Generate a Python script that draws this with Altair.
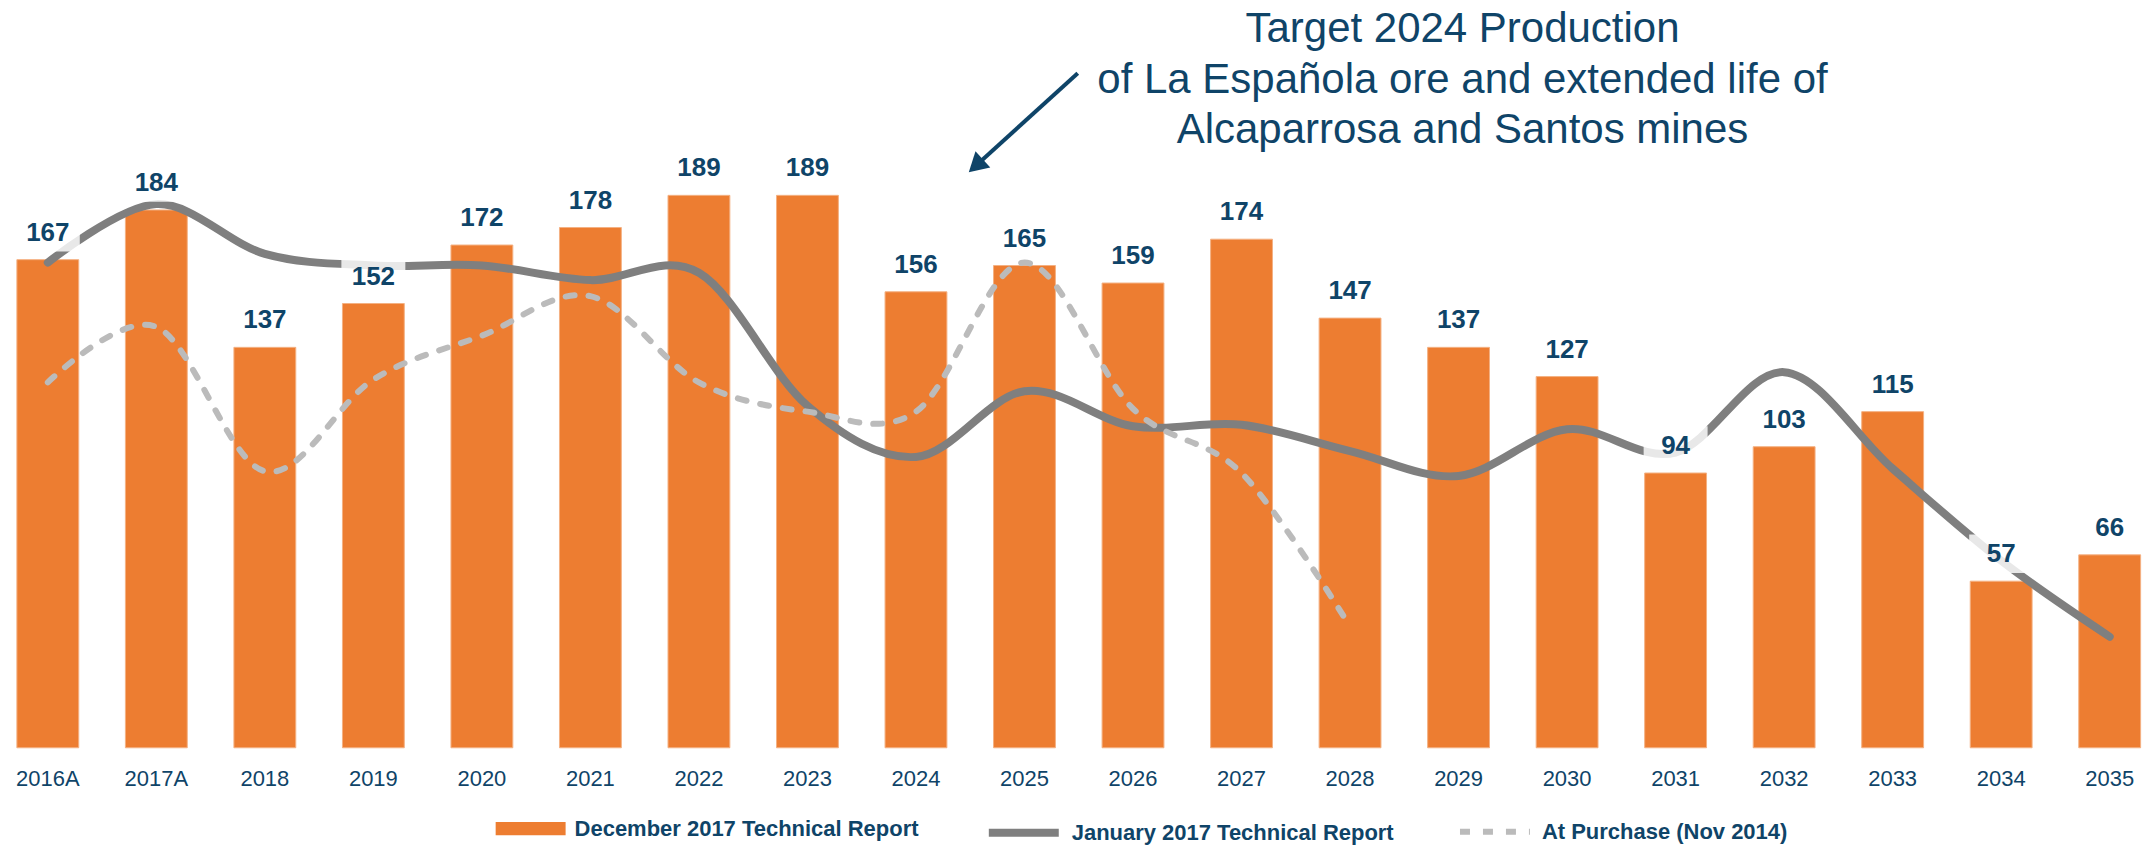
import altair as alt
import pandas as pd

# ---------------- data ----------------
years = ["2016A", "2017A", "2018", "2019", "2020", "2021", "2022", "2023", "2024", "2025",
         "2026", "2027", "2028", "2029", "2030", "2031", "2032", "2033", "2034", "2035"]
dec2017_values = [167, 184, 137, 152, 172, 178, 189, 189, 156, 165,
                  159, 174, 147, 137, 127, 94, 103, 115, 57, 66]
jan2017_values = [166, 186, 169, 165, 165, 160, 162.5, 117, 99.5, 122,
                  110, 110.5, 101.5, 93, 109, 101, 128.5, 95.5, 64, 38]
purchase_years = ["2016A", "2017A", "2018", "2019", "2020", "2021", "2022", "2023", "2024",
                  "2025", "2026", "2027", "2028"]
purchase_values = [125, 144, 94.6, 126, 141, 154.5, 125, 115, 115, 166, 116, 94, 41.5]

series_names = ["December 2017 Technical Report", "January 2017 Technical Report",
                "At Purchase (Nov 2014)"]
annotation_lines = ["Target 2024 Production",
                    "of La Española ore and extended life of",
                    "Alcaparrosa and Santos mines"]

# ---------------- styles ----------------
FONT = "Liberation Sans"
TEXT = "#0F4468"
ORANGE = "#ED7D31"
DARK = "#7F7F7F"
LIGHT = "#BBBBBB"

bars_df = pd.DataFrame({"year": years, "value": dec2017_values, "series": series_names[0]})
jan_df = pd.DataFrame({"year": years, "value": jan2017_values, "series": series_names[1]})
pur_df = pd.DataFrame({"year": purchase_years, "value": purchase_values, "series": series_names[2]})

LEG_Y = 786
common_leg = dict(title=None, orient="none", legendY=LEG_Y, direction="horizontal",
                  labelFont=FONT, labelFontSize=22, labelFontWeight="bold",
                  labelColor=TEXT, labelLimit=600, labelOffset=9, symbolSize=4900,
                  padding=0)

leg_dec = alt.Legend(legendX=486.5, symbolType="M-1,-0.19H1V0.19H-1Z",
                     symbolFillColor=ORANGE, symbolStrokeWidth=0, symbolOpacity=1, **common_leg)
leg_jan = alt.Legend(legendX=976, symbolType="stroke", symbolStrokeWidth=8,
                     symbolStrokeColor=DARK, symbolOpacity=1, **common_leg)
leg_pur = alt.Legend(legendX=1448.5, symbolType="stroke", symbolStrokeWidth=6,
                     symbolDash=[10, 13], symbolStrokeColor=LIGHT, symbolOpacity=1,
                     **common_leg)

x_enc = alt.X("year:N", sort=years,
              scale=alt.Scale(paddingInner=0.43, paddingOuter=0.068),
              axis=alt.Axis(title=None, labelAngle=0, domain=False, ticks=False, grid=False,
                            labelFont=FONT, labelFontSize=22, labelColor=TEXT, labelPadding=21))
y_scale = alt.Scale(domain=[0, 253], nice=False, zero=True)

bars = alt.Chart(bars_df).mark_bar(stroke="#F4B183", strokeWidth=1).encode(
    x=x_enc, y=alt.Y("value:Q", scale=y_scale, axis=None),
    fill=alt.Fill("series:N", scale=alt.Scale(domain=[series_names[0]], range=[ORANGE]),
                  legend=leg_dec))

jan_line = alt.Chart(jan_df).mark_line(interpolate="cardinal", strokeWidth=8,
                                       strokeCap="round").encode(
    x=x_enc, y=alt.Y("value:Q", scale=y_scale, axis=None),
    color=alt.Color("series:N", scale=alt.Scale(domain=[series_names[1]], range=[DARK]),
                    legend=leg_jan))

pur_line = alt.Chart(pur_df).mark_line(interpolate="cardinal", strokeWidth=6,
                                       strokeDash=[9, 14], strokeCap="round").encode(
    x=x_enc, y=alt.Y("value:Q", scale=y_scale, axis=None),
    stroke=alt.Stroke("series:N", scale=alt.Scale(domain=[series_names[2]], range=[LIGHT]),
                      legend=leg_pur))

boxes = alt.Chart(bars_df).transform_calculate(
    lo="datum.value + 2.8", hi="datum.value + 16").mark_bar(
    width=64, color="white", opacity=0.82).encode(
    x=x_enc, y=alt.Y("lo:Q", scale=y_scale, axis=None), y2="hi:Q")

labels = alt.Chart(bars_df).mark_text(
    dy=-27, fontSize=26, fontWeight="bold", font=FONT, color=TEXT, baseline="middle").encode(
    x=x_enc, y=alt.Y("value:Q", scale=y_scale, axis=None), text=alt.Text("value:Q"))

note_df = pd.DataFrame({"k": [0]})
note = alt.Chart(note_df).mark_text(
    text=annotation_lines, fontSize=42, font=FONT, color=TEXT, align="center",
    baseline="top", lineHeight=50.5).encode(x=alt.value(1454), y=alt.value(1))

arrow_shaft = alt.Chart(note_df).mark_rule(strokeWidth=4, color=TEXT).encode(
    x=alt.value(1069), y=alt.value(65), x2=alt.value(967), y2=alt.value(157.6))
arrow_head = alt.Chart(note_df).mark_point(
    shape="triangle-up", size=484, filled=True, angle=227.8, color=TEXT, opacity=1).encode(
    x=alt.value(967), y=alt.value(157.6))

chart = alt.layer(bars, jan_line, pur_line, boxes, labels, note, arrow_shaft, arrow_head).properties(
    width=2140, height=740,
    padding={"left": 1.5, "top": 0, "right": 0, "bottom": 97},
    autosize=alt.AutoSizeParams(type="none"),
    background="white",
).configure_view(stroke=None)

chart.save("out.html", embed_options={"renderer": "svg", "actions": False})
